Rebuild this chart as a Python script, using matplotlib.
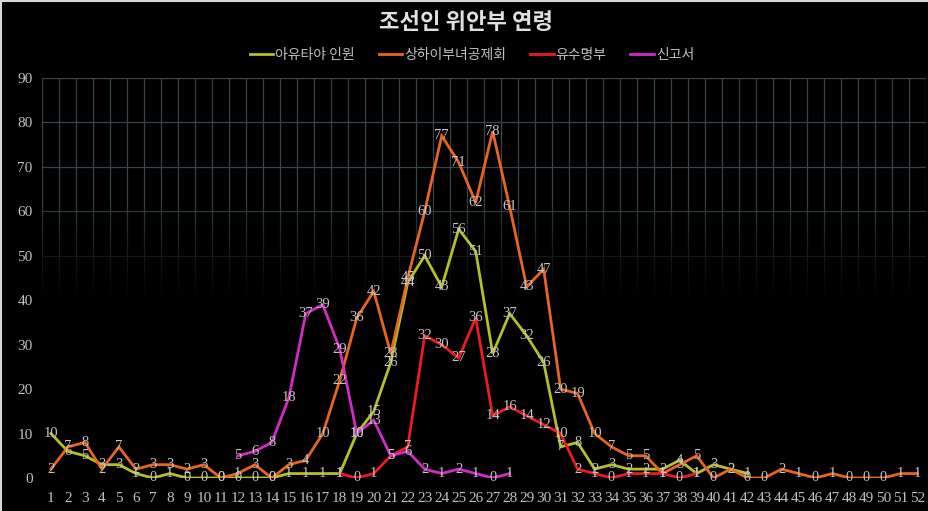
import numpy as np
import matplotlib
matplotlib.use('Agg')
import matplotlib.pyplot as plt
from matplotlib.lines import Line2D

# 연령별 인원 (1세 ~ 52세)
ages = list(range(1, 53))

# 아유타야 인원 : 1 ~ 42
ayutthaya_start = 1
ayutthaya = [10, 6, 5, 3, 3, 1, 0, 1, 0, 0, 0, 0, 0, 0, 1, 1, 1, 1, 10, 15,
             26, 44, 50, 43, 56, 51, 28, 37, 32, 26, 7, 8, 2, 3, 2, 2, 2, 4, 1, 3,
             2, 1]

# 상하이부녀공제회 : 1 ~ 52
shanghai_start = 1
shanghai = [2, 7, 8, 2, 7, 2, 3, 3, 2, 3, 0, 1, 3, 0, 3, 4, 10, 22, 36, 42,
            28, 45, 60, 77, 71, 62, 78, 61, 43, 47, 20, 19, 10, 7, 5, 5, 1, 3, 5, 0,
            2, 0, 0, 2, 1, 0, 1, 0, 0, 0, 1, 1]

# 유수명부 : 18 ~ 39
roster_start = 18
roster = [1, 0, 1, 5, 7, 32, 30, 27, 36, 14, 16, 14, 12, 10, 2, 1, 0, 1, 1, 1,
          0, 1]

# 신고서 : 12 ~ 28
report_start = 12
report = [5, 6, 8, 18, 37, 39, 29, 10, 13, 5, 6, 2, 1, 2, 1, 0, 1]

series = [
    ('아유타야 인원', ayutthaya_start, ayutthaya, '#b4c024'),
    ('상하이부녀공제회', shanghai_start, shanghai, '#ea6420'),
    ('유수명부', roster_start, roster, '#ee1a1e'),
    ('신고서', report_start, report, '#d42ac8'),
]

kor = ['Noto Sans CJK KR', 'DejaVu Sans']
num_font = 'Liberation Serif'
label_col = '#c4c4c4'

fig = plt.figure(figsize=(9.29, 5.11), dpi=100, facecolor='black')
ax = fig.add_axes([0.0457, 0.0646, 0.9510, 0.7828])
ax.set_facecolor('black')

# 격자선 (항목 경계)
for xb in np.arange(0.5, 53.0, 1.0):
    ax.axvline(xb, color='#34454c', lw=0.9, zorder=0.5)
for yv in range(10, 91, 10):
    ax.axhline(yv, color='#34454c', lw=0.9, zorder=0.5)

# 아래쪽으로 갈수록 격자가 어두워짐
grad_y = np.linspace(0, 90, 400)
alpha = np.clip((62 - grad_y) / 22.0, 0, 1) ** 0.8
rgba = np.zeros((400, 2, 4))
rgba[:, :, 3] = alpha[:, None]
ax.imshow(rgba, extent=[0.5, 52.5, 0, 90], origin='lower', aspect='auto',
          zorder=1, interpolation='bilinear')

handles = []
for name, start, vals, col in series:
    xs = list(range(start, start + len(vals)))
    ax.plot(xs, vals, color=col, lw=2.0, zorder=3, solid_joinstyle='miter')
    handles.append(Line2D([], [], color=col, lw=2.0, label=name))
    for x, v in zip(xs, vals):
        ax.text(x, v, str(v), ha='center', va='center', color=label_col,
                fontsize=10.5, family=num_font, zorder=5)

ax.set_xlim(0.5, 52.5)
ax.set_ylim(0, 90)
ax.set_xticks(ages)
ax.set_xticklabels([str(a) for a in ages])
ax.set_yticks(range(0, 91, 10))
ax.tick_params(axis='x', length=0, pad=10, labelsize=11, labelcolor='#c0c0c0')
ax.tick_params(axis='y', length=0, pad=7, labelsize=11, labelcolor='#c0c0c0')
for lab in ax.get_xticklabels() + ax.get_yticklabels():
    lab.set_family(num_font)
for sp in ax.spines.values():
    sp.set_visible(False)

fig.text(0.502, 0.955, '조선인 위안부 연령', ha='center', va='center',
         fontsize=16, fontweight='bold', color='#e0e0e0', family=kor)

leg = fig.legend(handles=handles, loc='center', bbox_to_anchor=(0.508, 0.892),
                 ncol=4, frameon=False, handlelength=1.7,
                 handletextpad=0.15, columnspacing=1.7,
                 prop={'family': kor, 'size': 10})
for t in leg.get_texts():
    t.set_color('#c0c0c0')

# 스크린샷 테두리
fig.add_artist(Line2D([0, 1], [0.999, 0.999], transform=fig.transFigure,
                      color='#d8d8d8', lw=1.5))
fig.add_artist(Line2D([0.001, 0.001], [0, 1], transform=fig.transFigure,
                      color='#d8d8d8', lw=1.5))

fig.savefig('out.png', dpi=100, facecolor='black')
